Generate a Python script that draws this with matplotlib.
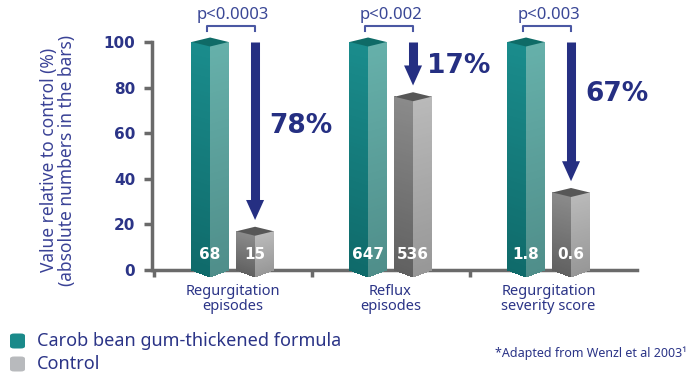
import numpy as np
import matplotlib
matplotlib.use("Agg")
import matplotlib.pyplot as plt
from matplotlib.patches import Polygon, FancyBboxPatch
from matplotlib.collections import PolyCollection
from matplotlib.colors import to_rgb

plt.rcParams['font.family'] = ['Noto Sans', 'DejaVu Sans']
BOLD = ['DejaVu Sans']

# ---- data ----
categories = ["Regurgitation\nepisodes", "Reflux\nepisodes", "Regurgitation\nseverity score"]
cbg_values = [100, 100, 100]
control_values = [17, 76, 34]
cbg_abs = ["68", "647", "1.8"]
control_abs = ["15", "536", "0.6"]
reductions = ["78%", "17%", "67%"]
p_values = ["p<0.0003", "p<0.002", "p<0.003"]
yticks = [0, 20, 40, 60, 80, 100]
series_names = ["Carob bean gum-thickened formula", "Control"]

NAVY = "#252f82"
TEXT = "#2b3487"

W, H = 693, 378
fig = plt.figure(figsize=(W / 100, H / 100), dpi=100)
ax_l, ax_r, ax_t, ax_b = 152, 637, 42, 270
ax = fig.add_axes([ax_l / W, 1 - ax_b / H, (ax_r - ax_l) / W, (ax_b - ax_t) / H])
xlim = (-0.51, 2.56)
ax.set_xlim(*xlim)
ax.set_ylim(0, 100)

px_x = (xlim[1] - xlim[0]) / (ax_r - ax_l)   # data units per pixel x
px_y = 100 / (ax_b - ax_t)                   # data units per pixel y

bar_w = 37 * px_x
off = 22.5 * px_x
d_top = 4.5 * px_y
d_bot = 7 * px_y


def grad_face(xa, xb, ya_top, yb_top, ya_bot, yb_bot, c_top, c_bot, n=60):
    """Parallelogram face from x=xa to xb, vertical gradient via bands."""
    ct, cb = np.array(to_rgb(c_top)), np.array(to_rgb(c_bot))
    polys, cols = [], []
    ts = np.linspace(0, 1, n + 1)
    for k in range(n):
        t0, t1 = ts[k], min(ts[k + 1] + 0.004, 1)
        ya0 = ya_bot + (ya_top - ya_bot) * t0
        ya1 = ya_bot + (ya_top - ya_bot) * t1
        yb0 = yb_bot + (yb_top - yb_bot) * t0
        yb1 = yb_bot + (yb_top - yb_bot) * t1
        polys.append([(xa, ya0), (xb, yb0), (xb, yb1), (xa, ya1)])
        tm = (t0 + t1) / 2
        cols.append(cb + (ct - cb) * tm)
    pc = PolyCollection(polys, facecolors=cols, edgecolors='none', zorder=3,
                        antialiased=False)
    pc.set_clip_on(False)
    ax.add_collection(pc)


def prism(xc, v, left_cols, right_cols, top_col):
    xl, xr, xm = xc - bar_w / 2, xc + bar_w / 2, xc
    grad_face(xl, xm, v, v - d_top, 0, -d_bot, *left_cols)
    grad_face(xm, xr, v - d_top, v, -d_bot, 0, *right_cols)
    top = Polygon([(xl, v), (xm, v - d_top), (xr, v), (xm, v + d_top)],
                  closed=True, facecolor=top_col, edgecolor='none', zorder=4)
    top.set_clip_on(False)
    ax.add_patch(top)


teal_left = ("#1a8c8c", "#0f6a6a")
teal_right = ("#66b0aa", "#4f8e8a")
gray_left = ("#8a8a8a", "#606060")
gray_right = ("#b9b9b9", "#979797")

x = np.arange(len(categories))
for i in range(len(categories)):
    prism(x[i] - off, cbg_values[i], teal_left, teal_right, "#0f6b67")
    prism(x[i] + off, control_values[i], gray_left, gray_right, "#575757")
    ax.text(x[i] - off, 7, cbg_abs[i], color='white', fontsize=11, fontweight='bold',
            family=BOLD, ha='center', va='center', zorder=6)
    ax.text(x[i] + off, 7, control_abs[i], color='white', fontsize=11, fontweight='bold',
            family=BOLD, ha='center', va='center', zorder=6)
    # arrow
    y_start = cbg_values[i]
    y_end = control_values[i] + 2.5 * d_top
    head_len = 20 * px_y
    ax.plot([x[i] + off, x[i] + off], [y_start, y_end + head_len * 0.9], color=NAVY,
            lw=6.5, solid_capstyle='butt', zorder=5, clip_on=False)
    hw = 9 * px_x
    head = Polygon([(x[i] + off - hw, y_end + head_len), (x[i] + off + hw, y_end + head_len),
                    (x[i] + off, y_end)], closed=True, facecolor=NAVY, edgecolor='none', zorder=5)
    head.set_clip_on(False)
    ax.add_patch(head)
    # bracket
    by = 100 + 16 * px_y
    bl = 5.5 * px_y
    ax.plot([x[i] - off - 3 * px_x, x[i] - off - 3 * px_x, x[i] + off, x[i] + off],
            [by - bl, by, by, by - bl], color="#4b58a3", lw=1.5, clip_on=False, zorder=5)
    ax.text(x[i], by + 3 * px_y, p_values[i], color="#3a4796", fontsize=12,
            ha='center', va='bottom', clip_on=False)

# percentage labels
pct_y = [63, 89.5, 77]
for i in range(len(categories)):
    ax.text(x[i] + off + 14 * px_x, pct_y[i], reductions[i], color=NAVY, fontsize=19,
            fontweight='bold', family=BOLD, ha='left', va='center')

# axes styling
for s in ['top', 'right']:
    ax.spines[s].set_visible(False)
for s in ['left', 'bottom']:
    ax.spines[s].set_color("#6a6a6a")
    ax.spines[s].set_linewidth(2.5)
    ax.spines[s].set_zorder(2)
ax.set_yticks(yticks)
ax.set_yticklabels([str(t) for t in yticks], fontsize=11, fontweight='bold', color=TEXT,
                   family=BOLD)
ax.tick_params(axis='y', length=6, width=2.5, color="#6a6a6a", pad=6)
ax.set_xticks([-0.5, 0.5, 1.5])
ax.set_xticklabels([])
ax.tick_params(axis='x', length=5, width=2.5, color="#6a6a6a", direction='out')
ax.spines['bottom'].set_bounds(xlim[0] + 0.005, xlim[1])

for i, c in enumerate(categories):
    ax.text(x[i], -6, c, ha='center', va='top', fontsize=10.5, color=TEXT,
            linespacing=1.0, clip_on=False)

fig.text(58 / W, 1 - 160 / H, "Value relative to control (%)\n(absolute numbers in the bars)",
         rotation=90, ha='center', va='center', fontsize=12.5, color="#3a4296", linespacing=1.05)

# legend
leg_items = [("#1a8a8a", 341), ("#b8babd", 364)]
for (col, yc), name in zip(leg_items, series_names):
    box = FancyBboxPatch((10 / W, 1 - (yc + 7.5) / H), 15 / W, 15 / H,
                         boxstyle="round,pad=0,rounding_size=0.006",
                         transform=fig.transFigure, facecolor=col, edgecolor='none')
    fig.patches.append(box)
    fig.text(37 / W, 1 - yc / H, name, ha='left', va='center', fontsize=13, color=TEXT)

fig.text(687 / W, 1 - 353 / H, "*Adapted from Wenzl et al 2003¹", ha='right',
         va='center', fontsize=9, color=TEXT)

fig.savefig("out.png", dpi=100)
